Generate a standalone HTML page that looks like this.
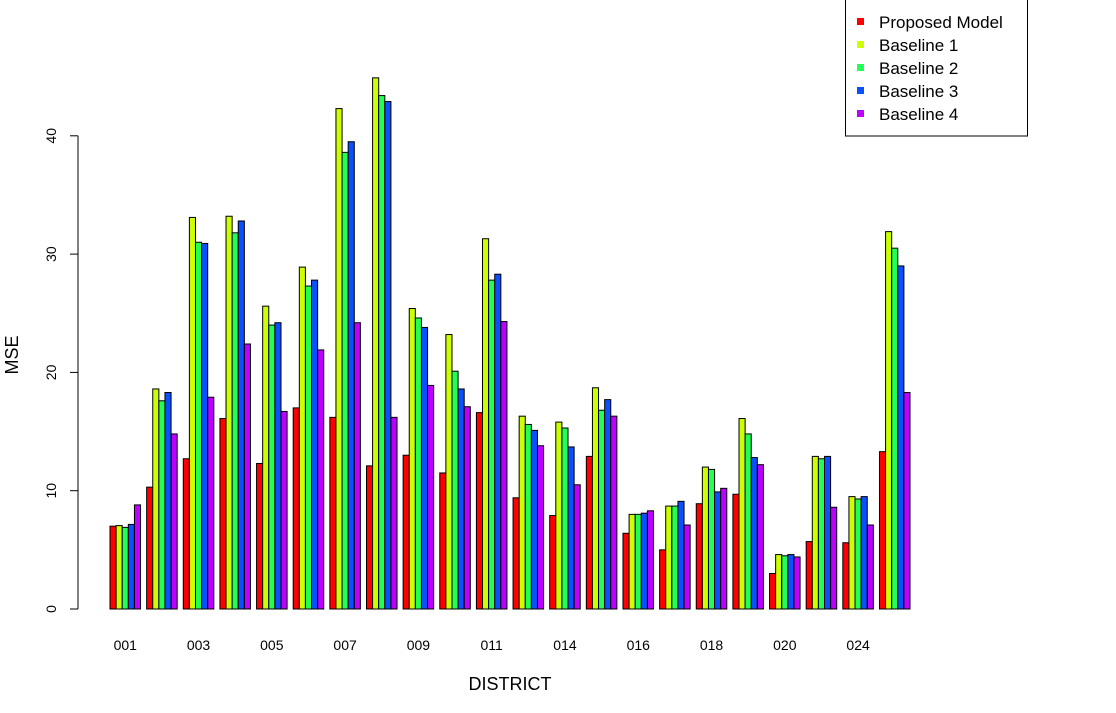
<!DOCTYPE html>
<html><head><meta charset="utf-8"><style>
html,body{margin:0;padding:0;background:#fff;}
svg{display:block;font-family:"Liberation Sans",Arial,sans-serif;}
</style></head><body>
<svg id="chart" width="1116" height="713" viewBox="0 0 1116 713" xmlns="http://www.w3.org/2000/svg">
<g id="bars"></g>
<g id="yaxis"></g>
<g id="xlabels"></g>
<text x="18" y="355" font-size="18" text-anchor="middle" transform="rotate(-90 18 355)">MSE</text>
<text x="510" y="690" font-size="18" text-anchor="middle">DISTRICT</text>
<g id="legend">
<rect x="845.5" y="-1" width="182" height="137" fill="#fff" stroke="#000" stroke-width="1"/>
</g>
</svg>
<script>
const districts = ["001","002","003","004","005","006","007","008","009","010","011","012","014","015","016","017","018","019","020","022","024","025"];
const seriesNames = ["Proposed Model","Baseline 1","Baseline 2","Baseline 3","Baseline 4"];
const proposed = [7.0,10.3,12.7,16.1,12.3,17.0,16.2,12.1,13.0,11.5,16.6,9.4,7.9,12.9,6.4,5.0,8.9,9.7,3.0,5.7,5.6,13.3];
const baseline1 = [7.05,18.6,33.1,33.2,25.6,28.9,42.3,44.9,25.4,23.2,31.3,16.3,15.8,18.7,8.0,8.7,12.0,16.1,4.6,12.9,9.5,31.9];
const baseline2 = [6.9,17.6,31.0,31.8,24.0,27.3,38.6,43.4,24.6,20.1,27.8,15.6,15.3,16.8,8.0,8.7,11.8,14.8,4.5,12.7,9.3,30.5];
const baseline3 = [7.15,18.3,30.9,32.8,24.2,27.8,39.5,42.9,23.8,18.6,28.3,15.1,13.7,17.7,8.1,9.1,9.9,12.8,4.6,12.9,9.5,29.0];
const baseline4 = [8.8,14.8,17.9,22.4,16.7,21.9,24.2,16.2,18.9,17.1,24.3,13.8,10.5,16.3,8.3,7.1,10.2,12.2,4.4,8.6,7.1,18.3];
const yTicks = [0,10,20,30,40];
const shownLabels = ["001","003","005","007","009","011","014","016","018","020","024"];

const series = [proposed,baseline1,baseline2,baseline3,baseline4];
const colors = ["#FF0000","#CCFF00","#22FF55","#0A50FF","#BB00FF"];
const NS = "http://www.w3.org/2000/svg";
const y0 = 609, pxPer = 11.83;
const yScale = v => y0 - v * pxPer;
const xLeft = 110, unit = 800 / (districts.length * 6 - 1);
const xBar = (g, s) => xLeft + (g * 6 + s) * unit;

const barsG = document.getElementById('bars');
districts.forEach((d, g) => {
  series.forEach((arr, s) => {
    const r = document.createElementNS(NS, 'rect');
    const v = arr[g];
    r.setAttribute('x', xBar(g, s));
    r.setAttribute('y', yScale(v));
    r.setAttribute('width', unit);
    r.setAttribute('height', y0 - yScale(v));
    r.setAttribute('fill', colors[s]);
    r.setAttribute('stroke', '#000');
    r.setAttribute('stroke-width', '1');
    
    
    barsG.appendChild(r);
  });
});

const ya = document.getElementById('yaxis');
const axisLine = document.createElementNS(NS, 'line');
axisLine.setAttribute('x1', 78); axisLine.setAttribute('x2', 78);
axisLine.setAttribute('y1', yScale(yTicks[0])); axisLine.setAttribute('y2', yScale(yTicks[yTicks.length - 1]));
axisLine.setAttribute('stroke', '#000');


ya.appendChild(axisLine);
yTicks.forEach(t => {
  const y = yScale(t);
  const l = document.createElementNS(NS, 'line');
  l.setAttribute('x1', 70); l.setAttribute('x2', 78);
  l.setAttribute('y1', y); l.setAttribute('y2', y);
  l.setAttribute('stroke', '#000');
  
  
  ya.appendChild(l);
  const tx = document.createElementNS(NS, 'text');
  tx.setAttribute('x', 56); tx.setAttribute('y', y);
  tx.setAttribute('font-size', '14');
  tx.setAttribute('text-anchor', 'middle');
  tx.setAttribute('transform', 'rotate(-90 56 ' + y + ')');
  tx.textContent = t;
  
  
  ya.appendChild(tx);
});

const xl = document.getElementById('xlabels');
districts.forEach((d, g) => {
  if (shownLabels.indexOf(d) < 0) return;
  const tx = document.createElementNS(NS, 'text');
  tx.setAttribute('x', xBar(g, 2.5));
  tx.setAttribute('y', 650);
  tx.setAttribute('font-size', '14');
  tx.setAttribute('text-anchor', 'middle');
  tx.textContent = d;
  
  
  xl.appendChild(tx);
});

const lg = document.getElementById('legend');
seriesNames.forEach((n, i) => {
  const y = 22 + i * 23;
  const sq = document.createElementNS(NS, 'rect');
  sq.setAttribute('x', 857); sq.setAttribute('y', y - 4);
  sq.setAttribute('width', 7); sq.setAttribute('height', 7);
  sq.setAttribute('fill', colors[i]);
  
  
  lg.appendChild(sq);
  const tx = document.createElementNS(NS, 'text');
  tx.setAttribute('x', 879); tx.setAttribute('y', y + 6);
  tx.setAttribute('font-size', '17');
  tx.textContent = n;
  
  
  lg.appendChild(tx);
});
</script>
</body></html>
